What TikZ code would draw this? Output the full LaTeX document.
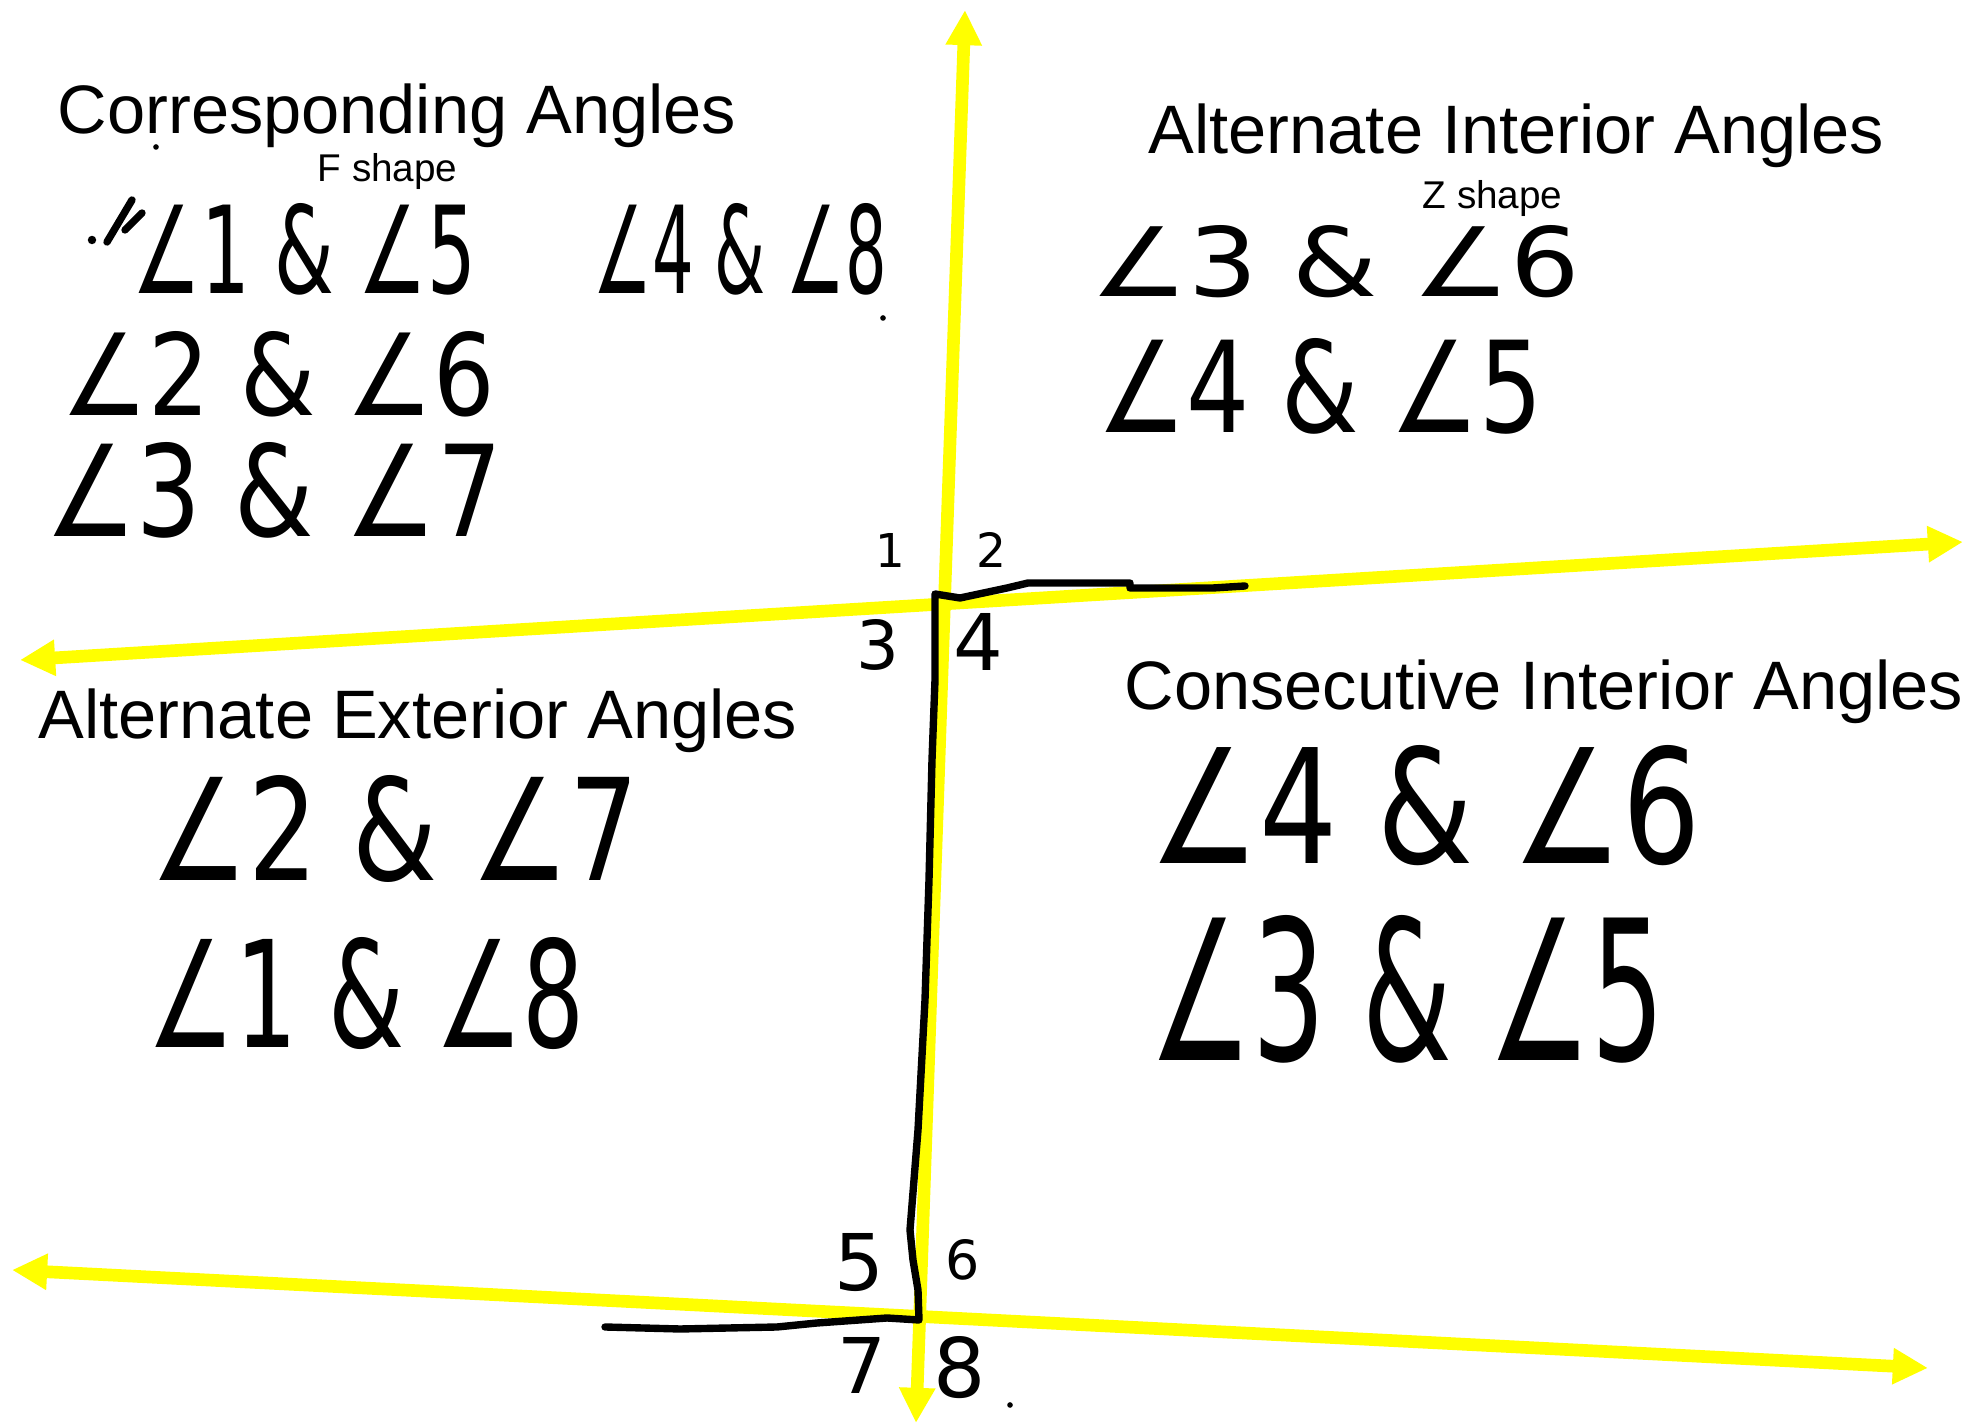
\documentclass[tikz,border=0pt]{standalone}
\usepackage{fontspec}
\setmainfont{Liberation Sans}
\newfontfamily\hwfont{DejaVu Sans}
\usetikzlibrary{arrows.meta}
\definecolor{ylw}{RGB}{255,255,0}
\newcommand{\hwbox}[3]{\resizebox{#1}{#2}{\hwfont #3}}
\newcommand{\hwdig}[2]{\resizebox{!}{#1}{\hwfont #2}}
\begin{document}
\begin{tikzpicture}[x=0.01cm,y=-0.01cm,
  yline/.style={draw=ylw, line width=3.6pt, arrows={Triangle[length=10pt,width=9.7pt]-Triangle[length=10pt,width=9.7pt]}},
  zpath/.style={draw=black, line width=2.1pt, line join=round, line cap=round},
  head/.style={anchor=base west, inner sep=0pt, font=\fontsize{19.5}{23}\selectfont},
  subhead/.style={anchor=base west, inner sep=0pt, font=\fontsize{11}{13}\selectfont},
  hw/.style={anchor=north west, inner sep=0pt},
  num/.style={inner sep=0pt},
  speck/.style={fill=black}
]
\useasboundingbox (0,0) rectangle (1965,1425);
\fill[white] (0,0) rectangle (1965,1425);

% transversal and parallel lines
\coordinate (vT) at (965,10);
\coordinate (vB) at (916,1423);
\coordinate (h1L) at (20,660);
\coordinate (h1R) at (1963,542);
\coordinate (h2L) at (12,1270);
\coordinate (h2R) at (1928,1368);
\draw[yline] (h1L) -- (h1R);
\draw[yline] (h2L) -- (h2R);
\draw[yline] (vB) -- (vT);

% Z shape
\draw[zpath] (1245,586) -- (1213,588) -- (1130,588) -- (1130,583) -- (1028,583) -- (1007,588) -- (960,598) -- (935,594)
  -- (935,680) -- (932,760) -- (929,880) -- (925,1000) -- (918,1130) -- (910,1230) -- (913,1260) -- (918,1290) -- (919,1320)
  -- (887,1318) -- (817,1323) -- (777,1327) -- (680,1329) -- (605,1327);

% headings
\node[head] (hCA) at (57,134) {Corresponding Angles};
\node[subhead] (sF) at (317,182) {F shape};
\node[head] (hAI) at (1148,154) {Alternate Interior Angles};
\node[subhead] (sZ) at (1422,209) {Z shape};
\node[head] (hAE) at (38,739) {Alternate Exterior Angles};
\node[head] (hCI) at (1124,710) {Consecutive Interior Angles};

% handwritten pairs
\node[hw] (p15) at (132,203) {\hwbox{3.43cm}{0.90cm}{∠1 \& ∠5}};
\node[hw] (p48) at (593,203) {\hwbox{2.93cm}{0.90cm}{∠4 \& ∠8}};
\node[hw] (p26) at (61,331) {\hwbox{4.33cm}{0.84cm}{∠2 \& ∠6}};
\node[hw] (p37) at (45,442) {\hwbox{4.56cm}{0.94cm}{∠3 \& ∠7}};
\node[hw] (p36) at (1090,225) {\hwbox{4.89cm}{0.71cm}{∠3 \& ∠6}};
\node[hw] (p45) at (1097,338) {\hwbox{4.45cm}{0.94cm}{∠4 \& ∠5}};
\node[hw] (p27) at (150,775) {\hwbox{4.88cm}{1.05cm}{∠2 \& ∠7}};
\node[hw] (p18) at (147,937) {\hwbox{4.37cm}{1.10cm}{∠1 \& ∠8}};
\node[hw] (p46) at (1149,745) {\hwbox{5.51cm}{1.18cm}{∠4 \& ∠6}};
\node[hw] (p35) at (1149,915) {\hwbox{5.15cm}{1.45cm}{∠3 \& ∠5}};

% angle numbers
\node[num] (n1) at (890,550) {\hwdig{0.34cm}{1}};
\node[num] (n2) at (992,550) {\hwdig{0.35cm}{2}};
\node[num] (n3) at (878,645) {\hwdig{0.50cm}{3}};
\node[num] (n4) at (978,642) {\hwdig{0.57cm}{4}};
\node[num] (n5) at (859,1263) {\hwdig{0.57cm}{5}};
\node[num] (n6) at (963,1260) {\hwdig{0.40cm}{6}};
\node[num] (n7) at (862,1365) {\hwdig{0.56cm}{7}};
\node[num] (n8) at (960,1368) {\hwdig{0.61cm}{8}};

% stray marks
\draw[zpath] (132,200) -- (107,242) (142,213) -- (125,230);
\fill[speck] (92,240) circle[radius=1.2pt];
\fill[speck] (156,147) circle[radius=0.8pt];
\fill[speck] (883,318) circle[radius=0.8pt];
\fill[speck] (1010,1405) circle[radius=0.8pt];
\end{tikzpicture}
\end{document}
